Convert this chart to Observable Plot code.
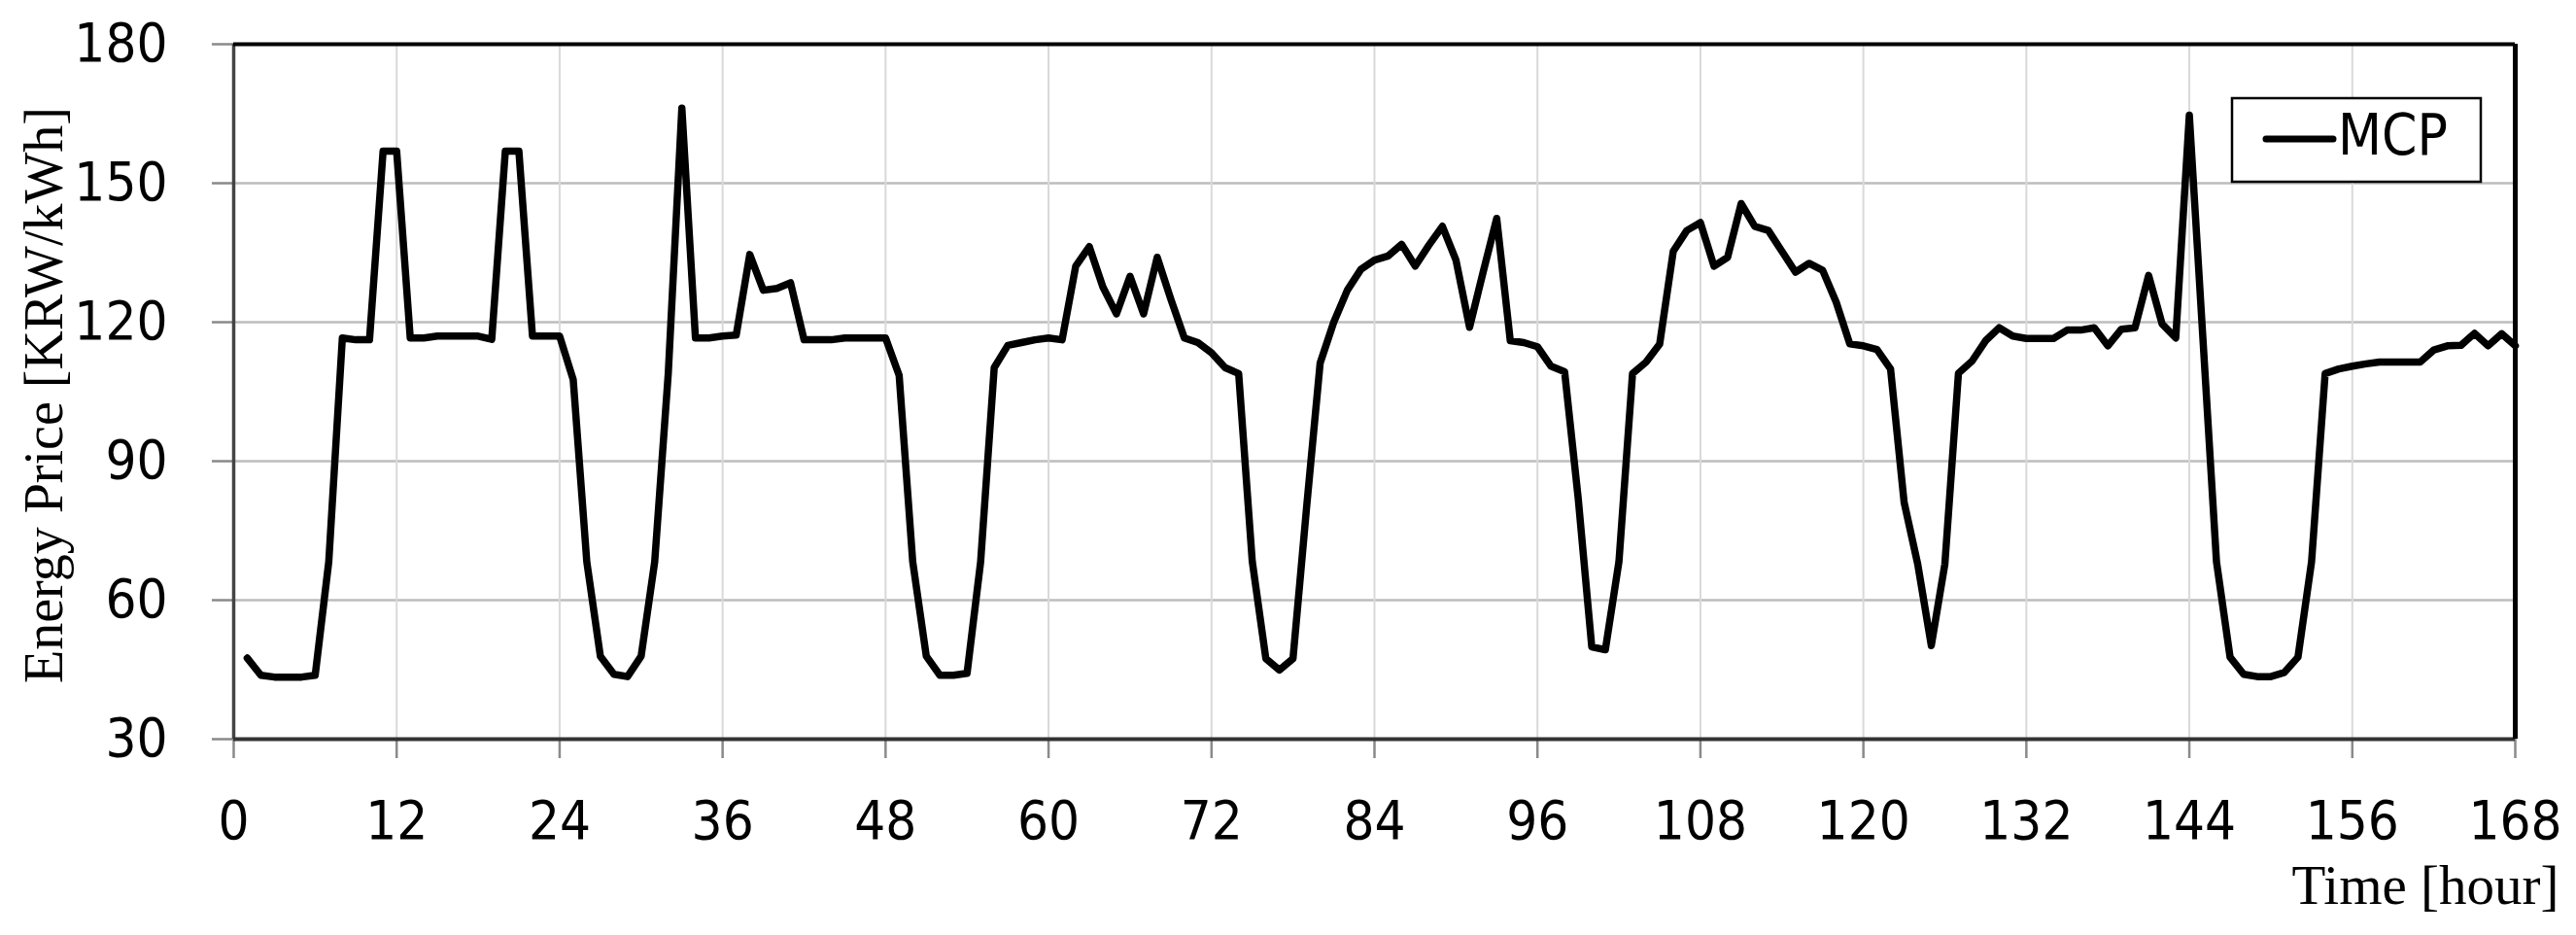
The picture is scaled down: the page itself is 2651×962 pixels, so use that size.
<!DOCTYPE html>
<html>
<head>
<meta charset="utf-8">
<script src="https://cdn.jsdelivr.net/npm/d3@7"></script>
<script src="https://cdn.jsdelivr.net/npm/@observablehq/plot@0.6"></script>
<style>
  html, body { margin: 0; padding: 0; background: white; }
  #chart svg { display: block; }
</style>
</head>
<body>
<div id="chart"></div>
<script>
// ---- data ----
const hours = d3.range(1, 169);
const mcp = [
  47.5, 43.8, 43.4, 43.4, 43.4, 43.8, 68.3, 116.6, 116.2, 116.2, 156.9, 156.9,
  116.6, 116.6, 117.0, 117.0, 117.0, 117.0, 116.3, 156.9, 156.9, 117.0, 117.0, 117.0,
  107.6, 68.3, 47.9, 44.0, 43.5, 47.9, 68.3, 109.0, 166.2, 116.6, 116.6, 117.0,
  117.2, 134.6, 126.9, 127.3, 128.5, 116.2, 116.2, 116.2, 116.6, 116.6, 116.6, 116.6,
  108.5, 68.3, 47.9, 43.8, 43.8, 44.2, 68.3, 110.2, 115.0, 115.6, 116.2, 116.6,
  116.2, 132.1, 136.3, 127.6, 121.8, 129.9, 121.8, 134.0, 125.0, 116.6, 115.6, 113.4,
  110.2, 108.9, 68.4, 47.4, 44.9, 47.4, 80.0, 111.2, 120.0, 126.9, 131.4, 133.4,
  134.3, 136.8, 132.1, 136.6, 140.7, 133.4, 118.9, 130.8, 142.4, 116.0, 115.6, 114.7,
  110.5, 109.3, 82.0, 49.9, 49.3, 68.3, 108.9, 111.4, 115.3, 135.3, 139.8, 141.5,
  132.1, 134.0, 145.6, 140.7, 139.8, 135.3, 130.8, 132.7, 131.2, 124.3, 115.3, 114.9,
  114.1, 109.9, 81.1, 67.8, 50.2, 67.8, 109.0, 111.6, 116.0, 118.8, 117.0, 116.5,
  116.5, 116.5, 118.3, 118.3, 118.8, 114.9, 118.5, 118.8, 130.1, 119.6, 116.6, 164.7,
  116.5, 68.3, 47.7, 44.0, 43.5, 43.5, 44.4, 47.7, 68.3, 108.9, 109.9, 110.5,
  111.0, 111.4, 111.4, 111.4, 111.4, 114.0, 114.9, 115.0, 117.6, 114.9, 117.5, 114.9
];
const xTicks = [0, 12, 24, 36, 48, 60, 72, 84, 96, 108, 120, 132, 144, 156, 168];
const yTicks = [30, 60, 90, 120, 150, 180];
const xTitle = "Time [hour]";
const yTitle = "Energy Price [KRW/kWh]";
const seriesName = "MCP";

const rows = hours.map((h, i) => ({hour: h, price: mcp[i]}));

const sans = "'DejaVu Sans Condensed', 'DejaVu Sans', sans-serif";
const serif = "'Liberation Serif', 'Times New Roman', serif";

const chart = Plot.plot({
  width: 2651,
  height: 962,
  marginLeft: 240,
  marginRight: 63,
  marginTop: 45,
  marginBottom: 202,
  style: {fontFamily: sans, fontSize: "55px", color: "black", background: "white", fontStretch: "condensed"},
  x: {domain: [0, 168], ticks: xTicks},
  y: {domain: [30, 180], ticks: yTicks},
  marks: [
    Plot.gridY(yTicks, {stroke: "#bdbdbd", strokeOpacity: 1, strokeWidth: 2.5}),
    Plot.gridX(xTicks, {stroke: "#d9d9d9", strokeOpacity: 1, strokeWidth: 2}),
    Plot.axisY(yTicks, {tickSize: 22, tickPadding: 46, stroke: "#8a8a8a", strokeWidth: 2.5, label: null, fontSize: 56}),
    Plot.axisX(xTicks, {tickSize: 20, tickPadding: 43, stroke: "#8a8a8a", strokeWidth: 2.5, label: null, fontSize: 56}),
    Plot.ruleX([0], {stroke: "#444", strokeWidth: 3.5}),
    Plot.ruleY([30], {stroke: "#333", strokeWidth: 4}),
    Plot.ruleY([180], {stroke: "black", strokeWidth: 4}),
    Plot.ruleX([168], {stroke: "black", strokeWidth: 5}),
    Plot.line(rows, {x: "hour", y: "price", stroke: "black", strokeWidth: 7.5, strokeLinejoin: "round"}),
    Plot.text([yTitle], {frameAnchor: "left", textAnchor: "middle", rotate: -90, dx: -177, dy: 3.5, lineAnchor: "bottom",
      fontFamily: serif, fontSize: 56, fill: "black", fontStretch: "normal"}),
    Plot.text([xTitle], {frameAnchor: "bottom-right", textAnchor: "end", lineAnchor: "bottom", dx: 45, dy: 169,
      fontFamily: serif, fontSize: 57, fill: "black", fontStretch: "normal"})
  ]
});

// legend
const svg = d3.select(chart);
const lg = svg.append("g");
lg.append("rect").attr("x", 2297).attr("y", 101).attr("width", 256).attr("height", 86)
  .attr("fill", "white").attr("stroke", "black").attr("stroke-width", 2.5);
lg.append("line").attr("x1", 2332).attr("x2", 2401).attr("y1", 143).attr("y2", 143)
  .attr("stroke", "black").attr("stroke-width", 7).attr("stroke-linecap", "round");
lg.append("text").attr("x", 2406).attr("y", 159).attr("text-anchor", "start").attr("font-family", sans)
  .attr("font-size", 58).attr("font-stretch", "condensed").attr("fill", "black").text(seriesName);

document.getElementById("chart").appendChild(chart);
</script>
</body>
</html>
